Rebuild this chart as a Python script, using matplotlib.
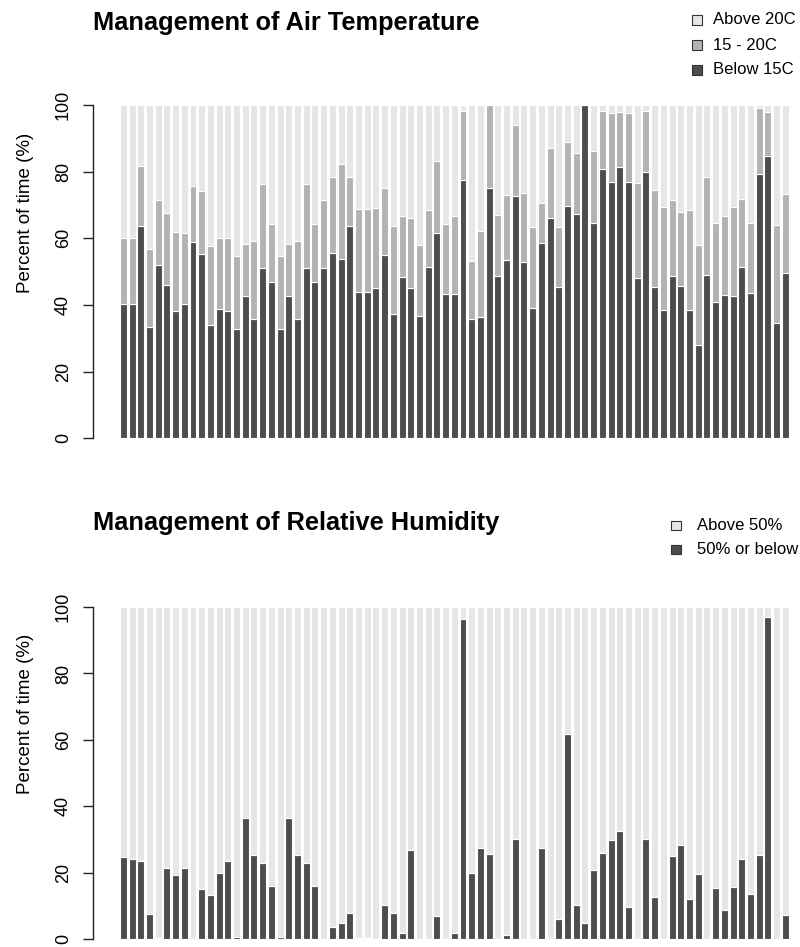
import numpy as np
import matplotlib
matplotlib.use('Agg')
import matplotlib.pyplot as plt
from matplotlib.patches import Rectangle

plt.rcParams['font.family'] = ['Liberation Sans', 'DejaVu Sans']

# Air temperature, percent of time in each band (one bar per site)
below_15 = [40.4, 40.4, 63.8, 33.5, 52.0, 46.1, 38.3, 40.4, 58.8, 55.3,
            33.9, 38.9, 38.3, 32.9, 42.6, 35.7, 51.1, 46.9, 32.9, 42.6,
            35.7, 51.1, 46.9, 51.1, 55.5, 53.9, 63.6, 44.0, 44.0, 45.1,
            54.9, 37.2, 48.4, 45.1, 36.8, 51.3, 61.5, 43.3, 43.3, 77.4,
            35.7, 36.4, 75.1, 48.7, 53.5, 72.7, 52.8, 39.2, 58.5, 66.1,
            45.5, 69.6, 67.2, 100.0, 64.7, 80.9, 76.9, 81.3, 77.0, 48.0,
            79.9, 45.5, 38.6, 48.7, 45.8, 38.6, 28.1, 49.1, 40.8, 42.9,
            42.6, 51.3, 43.7, 79.2, 84.6, 34.7, 49.7]
temp_15_20 = [19.6, 19.8, 17.9, 23.2, 19.6, 21.4, 23.5, 21.1, 16.8, 18.9,
              23.9, 21.1, 21.9, 21.9, 15.6, 23.6, 25.2, 17.4, 21.9, 15.6,
              23.6, 25.2, 17.4, 20.5, 22.9, 28.5, 14.8, 24.9, 24.9, 24.1,
              20.2, 26.6, 18.4, 20.9, 21.3, 17.3, 21.6, 20.9, 23.5, 20.9,
              17.4, 25.7, 24.9, 18.4, 19.4, 21.3, 20.9, 24.3, 12.0, 21.0,
              18.0, 19.2, 18.4, 0.0, 21.6, 17.4, 20.8, 16.7, 20.7, 28.6,
              18.4, 28.9, 30.7, 22.9, 22.2, 30.0, 30.0, 29.3, 23.9, 23.9,
              26.7, 20.6, 21.0, 19.8, 13.4, 29.2, 23.7]

# Relative humidity, percent of time at 50% or below
rh_below_50 = [24.7, 24.3, 23.6, 7.7, 0.4, 21.5, 19.3, 21.5, 0.0, 15.0,
               13.2, 20.0, 23.6, 0.8, 36.6, 25.4, 22.9, 16.1, 0.8, 36.6,
               25.4, 22.9, 16.1, 0.0, 3.7, 4.8, 8.0, 0.4, 0.4, 0.0,
               10.2, 8.0, 1.9, 26.9, 0.0, 0.0, 6.9, 0.0, 1.9, 96.4,
               20.0, 27.6, 25.8, 0.0, 1.2, 30.1, 0.0, 0.0, 27.6, 0.0,
               6.2, 61.9, 10.2, 4.8, 20.7, 26.1, 29.8, 32.7, 9.8, 0.0,
               30.1, 12.8, 0.0, 25.1, 28.3, 12.0, 19.7, 0.0, 15.3, 8.7,
               15.7, 24.3, 13.5, 25.4, 97.0, 0.0, 7.3]

below_15 = np.array(below_15)
temp_15_20 = np.array(temp_15_20)
above_20 = 100 - below_15 - temp_15_20
rh_below_50 = np.array(rh_below_50)
rh_above_50 = 100 - rh_below_50

DARK = '#4d4d4d'
MID = '#b3b3b3'
LIGHT = '#e6e6e6'

W, H = 800, 947
fig = plt.figure(figsize=(W / 100, H / 100), dpi=100)


def fx(px):
    return px / W


def fy(py):
    return 1 - py / H


x = np.arange(len(below_15))
xlim = (-3.48, 77.69)


def style_axis(ax, ymin, label_y):
    ax.set_xlim(*xlim)
    ax.set_ylim(ymin, 104)
    for s in ['top', 'right', 'bottom']:
        ax.spines[s].set_visible(False)
    ax.spines['left'].set_bounds(0, 100)
    ax.spines['left'].set_linewidth(1.0)
    ax.spines['left'].set_color('#222222')
    ax.set_xticks([])
    ax.set_yticks(range(0, 101, 20))
    ax.tick_params(axis='y', length=7.2, width=1.0, pad=8, labelsize=13,
                   color='#222222', labelrotation=90)
    for lab in ax.get_yticklabels():
        lab.set_va('center')
    ax.set_ylabel('Percent of time (%)', fontsize=13.5)
    # label sits left of the axis, centred a little above the axis middle
    ax.yaxis.set_label_coords(-(93 - 34) / 707, label_y)
    ax.patch.set_visible(False)


bar_kw = dict(width=0.8, edgecolor='white', linewidth=0.8)

# top chart
ax1 = fig.add_axes([fx(93), fy(451.6), fx(800) - fx(93), 360 / H])
ax1.bar(x, below_15, color=DARK, **bar_kw)
ax1.bar(x, temp_15_20, bottom=below_15, color=MID, **bar_kw)
ax1.bar(x, above_20, bottom=below_15 + temp_15_20, color=LIGHT, **bar_kw)
style_axis(ax1, -4, 0.663)

# bottom chart
ax2 = fig.add_axes([fx(93), fy(945.9), fx(800) - fx(93), 352.2 / H])
ax2.bar(x, rh_below_50, color=DARK, **bar_kw)
ax2.bar(x, rh_above_50, bottom=rh_below_50, color=LIGHT, **bar_kw)
style_axis(ax2, -2, 0.660)

# titles
fig.text(fx(93), fy(23), 'Management of Air Temperature', fontsize=18.3,
         fontweight='bold', ha='left', va='center')
fig.text(fx(93), fy(523), 'Management of Relative Humidity', fontsize=18.3,
         fontweight='bold', ha='left', va='center')


def legend_rows(items, sq_x, txt_x, ys, size):
    for (label, col), yc in zip(items, ys):
        fig.patches.append(Rectangle((fx(sq_x), fy(yc + size / 2)),
                                     size / W, size / H, facecolor=col,
                                     edgecolor='#333333', linewidth=0.8,
                                     transform=fig.transFigure, figure=fig))
        fig.text(fx(txt_x), fy(yc), label, fontsize=12, ha='left',
                 va='center')


legend_rows([('Above 20C', LIGHT), ('15 - 20C', MID), ('Below 15C', DARK)],
            692, 713, [20, 45, 70], 10)
legend_rows([('Above 50%', LIGHT), ('50% or below', DARK)],
            671, 697, [525.5, 549.5], 9.5)

fig.savefig('out.png', dpi=100)
